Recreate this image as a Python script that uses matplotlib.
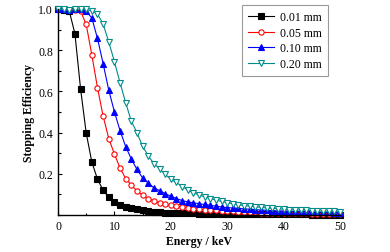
import numpy as np
import matplotlib
matplotlib.use("Agg")
import matplotlib.pyplot as plt
from matplotlib.ticker import MultipleLocator

plt.rcParams['font.family'] = ['Liberation Serif', 'DejaVu Serif']
plt.rcParams['mathtext.fontset'] = 'stix'

energy = list(range(0, 51))

labels = ["0.01 mm", "0.05 mm", "0.10 mm", "0.20 mm"]

eff_001 = [1.0, 0.995, 0.99, 0.88, 0.613, 0.398, 0.257, 0.174, 0.12, 0.085,
           0.065, 0.049, 0.040, 0.033, 0.027, 0.022, 0.019, 0.016, 0.014, 0.012,
           0.011, 0.010, 0.009, 0.008, 0.0075, 0.007, 0.0065, 0.006, 0.0055, 0.005,
           0.005, 0.0045, 0.0042, 0.004, 0.0038, 0.0036, 0.0034, 0.0032, 0.003, 0.003,
           0.0029, 0.0028, 0.0027, 0.0026, 0.0025, 0.0024, 0.0023, 0.0022, 0.0021, 0.002,
           0.002]
eff_005 = [1.0, 0.998, 0.995, 0.995, 0.99, 0.925, 0.777, 0.618, 0.48, 0.371,
           0.296, 0.228, 0.177, 0.145, 0.117, 0.096, 0.080, 0.068, 0.060, 0.053,
           0.047, 0.042, 0.038, 0.034, 0.031, 0.028, 0.026, 0.024, 0.022, 0.020,
           0.018, 0.017, 0.016, 0.015, 0.0135, 0.0125, 0.0118, 0.011, 0.0104, 0.0098,
           0.0092, 0.0088, 0.0084, 0.008, 0.0076, 0.0072, 0.0069, 0.0066, 0.0063, 0.006,
           0.0058]
eff_010 = [1.0, 0.998, 0.995, 0.998, 0.998, 0.99, 0.956, 0.857, 0.735, 0.606,
           0.501, 0.41, 0.332, 0.272, 0.221, 0.18, 0.155, 0.132, 0.118, 0.104,
           0.091, 0.080, 0.070, 0.064, 0.059, 0.055, 0.051, 0.047, 0.043, 0.039,
           0.036, 0.034, 0.032, 0.030, 0.028, 0.026, 0.024, 0.023, 0.021, 0.020,
           0.019, 0.018, 0.017, 0.0162, 0.0154, 0.0146, 0.014, 0.0133, 0.0126, 0.012,
           0.0115]
eff_020 = [1.0, 0.998, 0.995, 0.998, 0.998, 0.998, 0.99, 0.976, 0.927, 0.84,
           0.745, 0.642, 0.545, 0.455, 0.40, 0.333, 0.288, 0.249, 0.225, 0.197,
           0.174, 0.158, 0.138, 0.122, 0.108, 0.097, 0.088, 0.080, 0.072, 0.066,
           0.060, 0.055, 0.050, 0.046, 0.043, 0.040, 0.037, 0.034, 0.032, 0.030,
           0.028, 0.026, 0.025, 0.024, 0.022, 0.021, 0.020, 0.019, 0.018, 0.017,
           0.016]

series = [eff_001, eff_005, eff_010, eff_020]
colors = ["black", "#ff0000", "#0000ff", "#008b8b"]
markers = ["s", "o", "^", "v"]
fills = ["black", "white", "#0000ff", "white"]

fig = plt.figure(figsize=(3.9, 2.53), dpi=100)
ax = fig.add_axes([58/390, (253-216)/253, (340-58)/390, (216-10)/253])

for y, c, m, f, lab in zip(series, colors, markers, fills, labels):
    ax.plot(energy, y, color=c, marker=m, markerfacecolor=f, markeredgecolor=c,
            markersize=3.8, linewidth=0.8, markeredgewidth=0.8, label=lab, clip_on=False)

ax.set_xlim(0, 50)
ax.set_ylim(0, 1.0)
ax.xaxis.set_major_locator(MultipleLocator(10))
ax.xaxis.set_minor_locator(MultipleLocator(5))
ax.yaxis.set_major_locator(MultipleLocator(0.2))
ax.yaxis.set_minor_locator(MultipleLocator(0.1))
ax.set_yticks([0.2, 0.4, 0.6, 0.8, 1.0])
ax.set_yticklabels(["0.2", "0.4", "0.6", "0.8", "1.0"])
ax.tick_params(which='both', direction='in', labelsize=8.5, width=0.8)
ax.tick_params(which='major', length=3)
ax.tick_params(which='minor', length=1.8)
ax.spines['top'].set_visible(False)
ax.spines['right'].set_visible(False)
for s in ['left', 'bottom']:
    ax.spines[s].set_linewidth(1.0)

ax.set_xlabel("Energy / keV", fontsize=8.5, fontweight='bold', labelpad=2)
ax.set_ylabel("Stopping Efficiency", fontsize=8.5, fontweight='bold', labelpad=2)

leg = ax.legend(loc='upper right', bbox_to_anchor=(328/390, 1 - 6/253), bbox_transform=fig.transFigure,
                fontsize=8.5, frameon=True, fancybox=False, edgecolor='#808080',
                handlelength=2.2, handletextpad=0.5, borderpad=0.5, labelspacing=0.32,
                borderaxespad=0)
leg.get_frame().set_linewidth(0.8)

fig.savefig("out.png", dpi=100)
